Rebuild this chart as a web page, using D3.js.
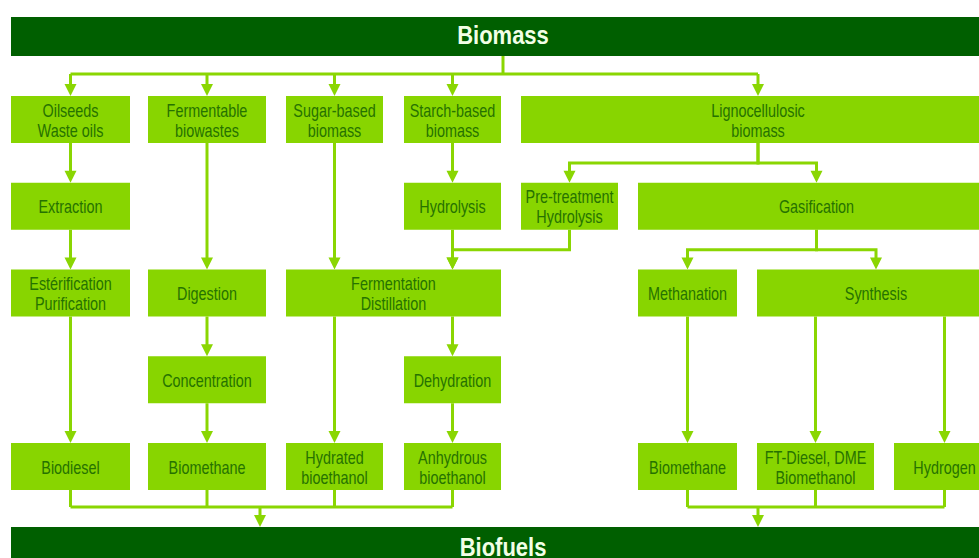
<!DOCTYPE html>
<html>
<head>
<meta charset="utf-8">
<script src="https://cdn.jsdelivr.net/npm/d3@7/dist/d3.min.js"></script>
<style>
body { margin: 0; background: #fff; }
svg { display: block; }
text { font-family: "Liberation Sans", Arial, sans-serif; }
.bar text { font-weight: bold; }
</style>
</head>
<body>
<svg id="chart" width="979" height="558"></svg>
<script>
// titres des deux bandeaux
const sourceTitle = "Biomass";
const sinkTitle = "Biofuels";

// noeuds : libellé, étape (ligne), colonnes occupées
const nodes = [
    {id: "oil",       label: ["Oilseeds", "Waste oils"],          row: 0, cols: [0, 0]},
    {id: "ferm",      label: ["Fermentable", "biowastes"],        row: 0, cols: [1, 1]},
    {id: "sugar",     label: ["Sugar-based", "biomass"],          row: 0, cols: [2, 2]},
    {id: "starch",    label: ["Starch-based", "biomass"],         row: 0, cols: [3, 3]},
    {id: "ligno",     label: ["Lignocellulosic", "biomass"],      row: 0, cols: [4, 7]},
    {id: "extr",      label: ["Extraction"],                      row: 1, cols: [0, 0]},
    {id: "hydro",     label: ["Hydrolysis"],                      row: 1, cols: [3, 3]},
    {id: "pretreat",  label: ["Pre-treatment", "Hydrolysis"],     row: 1, cols: [4, 4]},
    {id: "gasif",     label: ["Gasification"],                    row: 1, cols: [5, 7]},
    {id: "ester",     label: ["Estérification", "Purification"],  row: 2, cols: [0, 0]},
    {id: "digest",    label: ["Digestion"],                       row: 2, cols: [1, 1]},
    {id: "fermdist",  label: ["Fermentation", "Distillation"],    row: 2, cols: [2, 3]},
    {id: "methan",    label: ["Methanation"],                     row: 2, cols: [5, 5]},
    {id: "synth",     label: ["Synthesis"],                       row: 2, cols: [6, 7]},
    {id: "conc",      label: ["Concentration"],                   row: 3, cols: [1, 1]},
    {id: "dehyd",     label: ["Dehydration"],                     row: 3, cols: [3, 3]},
    {id: "biodiesel", label: ["Biodiesel"],                       row: 4, cols: [0, 0]},
    {id: "biometh1",  label: ["Biomethane"],                      row: 4, cols: [1, 1]},
    {id: "hydrated",  label: ["Hydrated", "bioethanol"],          row: 4, cols: [2, 2]},
    {id: "anhydrous", label: ["Anhydrous", "bioethanol"],         row: 4, cols: [3, 3]},
    {id: "biometh2",  label: ["Biomethane"],                      row: 4, cols: [5, 5]},
    {id: "ftdiesel",  label: ["FT-Diesel, DME", "Biomethanol"],   row: 4, cols: [6, 6]},
    {id: "hydrogen",  label: ["Hydrogen"],                        row: 4, cols: [7, 7]}
];

// filières qui partent du bandeau "Biomass"
const feedstocks = ["oil", "ferm", "sugar", "starch", "ligno"];

// liens : source, cible, colonne de sortie / d'entrée (sinon milieu du noeud)
const links = [
    {s: "oil", t: "extr"}, {s: "extr", t: "ester"}, {s: "ester", t: "biodiesel"},
    {s: "ferm", t: "digest"}, {s: "digest", t: "conc"}, {s: "conc", t: "biometh1"},
    {s: "sugar", t: "fermdist", tc: 2},
    {s: "starch", t: "hydro"},
    {s: "hydro", t: "fermdist", tc: 3},
    {s: "pretreat", t: "fermdist", tc: 3},
    {s: "fermdist", t: "hydrated", sc: 2},
    {s: "fermdist", t: "dehyd", sc: 3},
    {s: "dehyd", t: "anhydrous"},
    {s: "ligno", t: "pretreat"}, {s: "ligno", t: "gasif"},
    {s: "gasif", t: "methan"}, {s: "gasif", t: "synth"},
    {s: "methan", t: "biometh2"},
    {s: "synth", t: "ftdiesel", sc: 6},
    {s: "synth", t: "hydrogen", sc: 7}
];

// biocarburants regroupés vers le bandeau "Biofuels"
const biofuelGroups = [
    ["biodiesel", "biometh1", "hydrated", "anhydrous"],
    ["biometh2", "ftdiesel", "hydrogen"]
];

// ---- mise en page ----
const colLeft  = [11, 148, 286, 404, 521, 638, 757, 894];
const colRight = [130, 266, 383, 501, 618, 737, 874, 995];
const boxH = 47;
const groupArrowX = [260, 758];
const serrage = 0.8;   // police étroite : on compresse en largeur

const couleurs = {fonce: "#005f00", boite: "#88d500", trait: "#8ad602", texte: "#267200", titre: "#f2ffe6"};

const xL = d3.scaleOrdinal().domain(d3.range(8)).range(colLeft);
const xR = d3.scaleOrdinal().domain(d3.range(8)).range(colRight);
const y = d3.scaleLinear().domain([0, 4]).range([96, 443]);

const svg = d3.select("#chart");
const byId = {};
nodes.forEach(n => {
    n.x0 = xL(n.cols[0]);
    n.x1 = xR(n.cols[1]);
    n.y0 = y(n.row);
    n.y1 = n.y0 + boxH;
    n.cx = (n.x0 + n.x1) / 2;
    byId[n.id] = n;
});
function colCenter(c) { return (xL(c) + xR(c)) / 2; }

const gTraits = svg.append("g");
const gFleches = svg.append("g");

function trait(points) {
    gTraits.append("path")
        .attr("d", d3.line()(points))
        .attr("fill", "none")
        .attr("stroke", couleurs.trait)
        .attr("stroke-width", 3);
}
// pointe de flèche dont la pointe est en (x, yb)
function fleche(x, yb) {
    gFleches.append("path")
        .attr("d", "M" + (x - 6) + "," + (yb - 12) + " L" + (x + 6) + "," + (yb - 12) + " L" + x + "," + yb + " Z")
        .attr("fill", couleurs.trait);
}

// bandeaux
const barTop = 17, barBot = 56, bas = 527;
const bandeaux = [
    {titre: sourceTitle, y0: barTop, y1: barBot, base: 44},
    {titre: sinkTitle, y0: bas, y1: 580, base: 556}
];
const gBar = svg.selectAll("g.bar").data(bandeaux).enter().append("g").attr("class", "bar");
gBar.append("rect")
    .attr("x", 11).attr("y", d => d.y0)
    .attr("width", 995 - 11).attr("height", d => d.y1 - d.y0)
    .attr("fill", couleurs.fonce);
gBar.append("text")
    .attr("transform", d => "translate(" + (11 + 995) / 2 + "," + d.base + ") scale(0.88,1)")
    .attr("text-anchor", "middle")
    .attr("font-size", 25)
    .attr("fill", couleurs.titre)
    .text(d => d.titre);

// Biomass -> filières
const busY = 74;
const feedX = feedstocks.map(id => byId[id].cx);
trait([[503, barBot], [503, busY]]);
trait([[d3.min(feedX), busY], [d3.max(feedX), busY]]);
feedstocks.forEach(id => {
    const n = byId[id];
    trait([[n.cx, busY], [n.cx, n.y0 - 10]]);
    fleche(n.cx, n.y0);
});

// liens entre étapes
links.forEach(l => {
    const s = byId[l.s], t = byId[l.t];
    const sx = l.sc != null ? colCenter(l.sc) : s.cx;
    const tx = l.tc != null ? colCenter(l.tc) : t.cx;
    if (Math.abs(sx - tx) < 1) {
        trait([[sx, s.y1], [tx, t.y0 - 10]]);
    } else {
        const my = s.y1 + 20;
        trait([[sx, s.y1], [sx, my], [tx, my], [tx, t.y0 - 10]]);
    }
    fleche(tx, t.y0);
});

// biocarburants -> Biofuels
const busBas = 507;
biofuelGroups.forEach((grp, i) => {
    const xs = grp.map(id => byId[id].cx);
    xs.forEach(x => trait([[x, byId[grp[0]].y1], [x, busBas]]));
    trait([[d3.min(xs), busBas], [d3.max(xs), busBas]]);
    trait([[groupArrowX[i], busBas], [groupArrowX[i], bas - 10]]);
    fleche(groupArrowX[i], bas);
});

// boîtes
const gBox = svg.selectAll("g.box").data(nodes).enter().append("g").attr("class", "box");
gBox.append("rect")
    .attr("x", d => d.x0).attr("y", d => d.y0)
    .attr("width", d => d.x1 - d.x0).attr("height", boxH)
    .attr("fill", couleurs.boite);
gBox.each(function (d) {
    const cy = (d.y0 + d.y1) / 2;
    const n = d.label.length;
    d3.select(this).selectAll("text").data(d.label).enter().append("text")
        .attr("transform", (l, i) => "translate(" + d.cx + "," + (cy + 7 - (n - 1) * 10 + i * 20) + ") scale(" + serrage + ",1)")
        .attr("text-anchor", "middle")
        .attr("font-size", 18)
        .attr("fill", couleurs.texte)
        .text(l => l);
});
</script>
</body>
</html>
